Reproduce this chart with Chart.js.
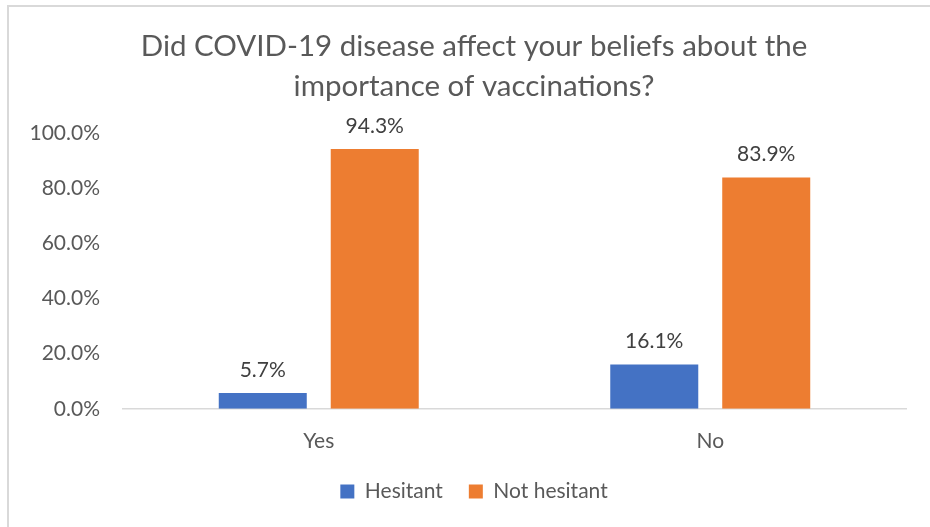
<!DOCTYPE html>
<html>
<head>
<meta charset="utf-8">
<script src="https://cdn.jsdelivr.net/npm/chart.js@4.4.1/dist/chart.umd.min.js"></script>
<style>
  body { margin: 0; background: #fff; }
  #wrap { position: relative; width: 930px; height: 527px; }
  #frame { position: absolute; left: 7px; top: 5px; right: 0; bottom: 0;
           border-top: 2px solid #d9d9d9; border-left: 2px solid #d9d9d9; }
  canvas { position: absolute; left: 0; top: 0; }
</style>
</head>
<body>
<div id="wrap">
  <div id="frame"></div>
  <canvas id="barChart" width="930" height="527"></canvas>
</div>
<script>
const answers = ['Yes', 'No'];
const hesitant = [5.7, 16.1];
const notHesitant = [94.3, 83.9];
const yTicks = [0, 20, 40, 60, 80, 100];

const FONT = 'Lato, "Open Sans", sans-serif';

// prints the percentage over each bar
const barValueLabels = {
    id: 'barValueLabels',
    afterDatasetsDraw(chart) {
        const ctx = chart.ctx;
        ctx.save();
        ctx.font = '21px ' + FONT;
        ctx.fillStyle = '#404040';
        ctx.textAlign = 'center';
        ctx.textBaseline = 'middle';
        chart.data.datasets.forEach((ds, i) => {
            chart.getDatasetMeta(i).data.forEach((bar, j) => {
                ctx.fillText(ds.data[j].toFixed(1) + '%', bar.x, bar.y - 23);
            });
        });
        ctx.restore();
    }
};

let barChart = new Chart(document.getElementById('barChart').getContext('2d'), {
    type: 'bar',
    data: {
        labels: answers,
        datasets: [
            { label: 'Hesitant', data: hesitant, backgroundColor: '#4472C4' },
            { label: 'Not hesitant', data: notHesitant, backgroundColor: '#ED7D31' }
        ]
    },
    options: {
        responsive: false,
        animation: false,
        layout: { padding: { left: 30, right: 12, top: 0, bottom: 15 } },
        datasets: {
            bar: { barPercentage: 0.786, categoryPercentage: 0.572 }
        },
        plugins: {
            tooltip: { enabled: false },
            title: {
                display: true,
                text: ['Did COVID-19 disease affect your beliefs about the', 'importance of vaccinations?'],
                color: '#595959',
                font: { family: FONT, size: 29.5, weight: 'normal', lineHeight: 1.36 },
                padding: { top: 26, bottom: 27 }
            },
            legend: {
                position: 'bottom',
                labels: {
                    color: '#595959',
                    font: { family: FONT, size: 21 },
                    boxWidth: 14,
                    boxHeight: 14,
                    padding: 26
                }
            }
        },
        scales: {
            x: {
                // the tick length is only used as spacing above the labels
                grid: { display: false, tickLength: 19 },
                border: { display: true, color: '#d9d9d9', width: 1.5 },
                ticks: { color: '#595959', font: { family: FONT, size: 21 }, padding: 1 }
            },
            y: {
                min: 0,
                max: 100,
                afterFit(scale) { scale.width = 93; },
                afterBuildTicks(scale) { scale.ticks = yTicks.map(v => ({ value: v })); },
                grid: { display: false, drawTicks: false },
                border: { display: false },
                ticks: {
                    color: '#595959',
                    font: { family: FONT, size: 21 },
                    padding: 23,
                    callback: v => v.toFixed(1) + '%'
                }
            },
            // empty strip on the right so the plot ends short of the edge
            gutter: {
                type: 'linear',
                position: 'right',
                afterFit(scale) { scale.width = 12; },
                grid: { display: false, drawTicks: false },
                border: { display: false },
                ticks: { display: false }
            }
        }
    },
    plugins: [barValueLabels]
});
</script>
</body>
</html>
